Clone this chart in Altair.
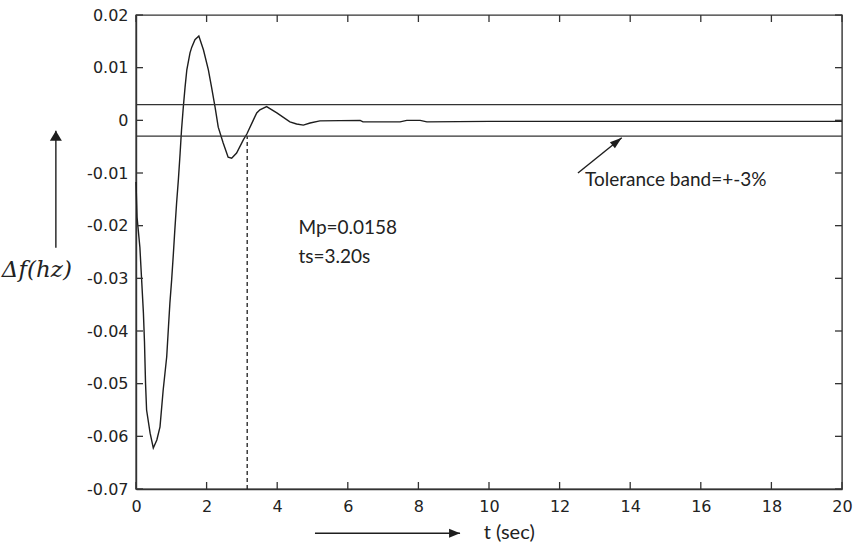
import altair as alt
import pandas as pd

# ---- data ----
t_vals = [0.0, 0.03, 0.11, 0.16, 0.21, 0.24, 0.27, 0.30, 0.40, 0.49, 0.59, 0.68, 0.77,
          0.87, 0.92, 0.96, 1.01, 1.06, 1.10, 1.15, 1.20, 1.25, 1.29, 1.34, 1.39, 1.44,
          1.53, 1.58, 1.67, 1.78, 1.91, 2.05, 2.14, 2.24, 2.33, 2.47, 2.61, 2.71, 2.85,
          3.04, 3.14, 3.32, 3.42, 3.51, 3.70, 3.99, 4.36, 4.55, 4.74, 4.93, 5.21, 6.35,
          6.43, 7.48, 7.67, 8.05, 8.24, 10.0, 20.0]
df_vals = [-0.0117, -0.0184, -0.0241, -0.0303, -0.0366, -0.0420, -0.0499, -0.0550, -0.0594,
           -0.0622, -0.0607, -0.0582, -0.0512, -0.0449, -0.0392, -0.0347, -0.0303, -0.0252,
           -0.0208, -0.0157, -0.0113, -0.0062, -0.0018, 0.0025, 0.0063, 0.0096, 0.0128,
           0.0139, 0.0153, 0.0160, 0.0134, 0.0096, 0.0063, 0.0025, -0.0013, -0.0043, -0.0070,
           -0.0072, -0.0062, -0.0037, -0.0026, 0.0000, 0.0014, 0.0020, 0.0026, 0.0014,
           -0.0003, -0.0007, -0.0009, -0.0005, -0.0001, 0.0000, -0.0003, -0.0003, 0.0000,
           0.0000, -0.0003, -0.0002, -0.0002]

x_ticks = [0, 2, 4, 6, 8, 10, 12, 14, 16, 18, 20]
y_ticks = [0.02, 0.01, 0, -0.01, -0.02, -0.03, -0.04, -0.05, -0.06, -0.07]

band_vals = [0.003, -0.003]
ts_val = 3.15
ts_from, ts_to = -0.07, -0.003

ann_texts = ["Mp=0.0158", "ts=3.20s"]
ann_t = [4.6, 4.6]
ann_v = [-0.0204, -0.0259]

tol_text = ["Tolerance band=+-3%"]
tol_t = [12.72]
tol_v = [-0.0113]

# arrows (data coordinates): start -> tip
tol_arrow = {"t1": [12.52], "v1": [-0.0100], "t2": [13.76], "v2": [-0.0033]}
up_arrow = {"t1": [-2.27], "v1": [-0.0242], "t2": [-2.27], "v2": [-0.0020]}
right_arrow = {"t1": [5.07], "v1": [-0.0784], "t2": [9.18], "v2": [-0.0784]}

ylab_text = ["Δf(hz)"]
ylab_t = [-3.8]
ylab_v = [-0.0285]
xlab_text = ["t (sec)"]
xlab_t = [9.85]
xlab_v = [-0.0784]

# ---- chart ----
W, H = 706, 474
INK = "#1e1e1e"
xs = alt.Scale(domain=[0, 20], nice=False, zero=False)
ys = alt.Scale(domain=[-0.07, 0.02], nice=False, zero=False)

x_axis = alt.Axis(
    values=x_ticks, title=None, ticks=False, tickSize=0, labelPadding=9, grid=False,
    labelFont="DejaVu Sans", labelFontSize=16, labelColor="#222", labelFlush=False,
    labelOverlap=False, domainColor="#333", domainWidth=1.4)
y_axis = alt.Axis(
    values=y_ticks, title=None, ticks=False, tickSize=0, labelPadding=8, grid=False,
    format="~g", labelExpr="replace(datum.label, '\u2212', '-')",
    labelFont="DejaVu Sans", labelFontSize=16, labelColor="#222", labelFlush=False,
    labelOverlap=False, domainColor="#333", domainWidth=1.4)


def X(field):
    return alt.X(field, scale=xs, axis=x_axis)


def Y(field):
    return alt.Y(field, scale=ys, axis=y_axis)


curve = pd.DataFrame({"t": t_vals, "v": df_vals})

line = alt.Chart(curve).mark_line(color=INK, strokeWidth=1.4).encode(x=X("t:Q"), y=Y("v:Q"))

ytk = pd.DataFrame({"v": y_ticks})
xtk = pd.DataFrame({"t": x_ticks})
TL = 7
tick_style = dict(color="#333", strokeWidth=1.3)
left_ticks = alt.Chart(ytk).mark_rule(**tick_style).encode(
    y=Y("v:Q"), x=alt.value(0), x2=alt.value(TL))
right_ticks = alt.Chart(ytk).mark_rule(**tick_style).encode(
    y=Y("v:Q"), x=alt.value(W - TL), x2=alt.value(W))
bottom_ticks = alt.Chart(xtk).mark_rule(**tick_style).encode(
    x=X("t:Q"), y=alt.value(H - TL), y2=alt.value(H))
top_ticks = alt.Chart(xtk).mark_rule(**tick_style).encode(
    x=X("t:Q"), y=alt.value(0), y2=alt.value(TL))

band = alt.Chart(pd.DataFrame({"v": band_vals})).mark_rule(color="#333", strokeWidth=1.3).encode(
    y=Y("v:Q"), x=alt.value(0), x2=alt.value(W))

dashed = alt.Chart(pd.DataFrame({"t": [ts_val], "v1": [ts_from], "v2": [ts_to]})).mark_rule(
    color=INK, strokeWidth=1.3, strokeDash=[4, 3]).encode(
    x=X("t:Q"), y=Y("v1:Q"), y2="v2:Q")

ann = alt.Chart(pd.DataFrame({"t": ann_t, "v": ann_v, "s": ann_texts})).mark_text(
    align="left", baseline="middle", font="Lato", fontSize=19, color="#222").encode(
    x=X("t:Q"), y=Y("v:Q"), text="s:N")

tol = alt.Chart(pd.DataFrame({"t": tol_t, "v": tol_v, "s": tol_text})).mark_text(
    align="left", baseline="middle", font="Lato", fontSize=19, color="#222").encode(
    x=X("t:Q"), y=Y("v:Q"), text="s:N")

ylab = alt.Chart(pd.DataFrame({"t": ylab_t, "v": ylab_v, "s": ylab_text})).mark_text(
    align="left", baseline="middle", font="DejaVu Serif", fontStyle="italic", fontSize=23,
    color="#222").encode(x=X("t:Q"), y=Y("v:Q"), text="s:N")

xlab = alt.Chart(pd.DataFrame({"t": xlab_t, "v": xlab_v, "s": xlab_text})).mark_text(
    align="left", baseline="middle", font="Lato", fontSize=20, color="#222").encode(
    x=X("t:Q"), y=Y("v:Q"), text="s:N")


def arrow(d, shape, angle):
    frame = pd.DataFrame(d)
    shaft = alt.Chart(frame).mark_rule(color=INK, strokeWidth=1.4).encode(
        x=X("t1:Q"), x2="t2:Q", y=Y("v1:Q"), y2="v2:Q")
    head = alt.Chart(frame).mark_point(
        shape=shape, filled=True, color=INK, opacity=1, size=100, angle=angle).encode(
        x=X("t2:Q"), y=Y("v2:Q"))
    return [shaft, head]


layers = [line, band, dashed, left_ticks, right_ticks, bottom_ticks, top_ticks, ann, tol, ylab, xlab]
layers += arrow(up_arrow, "M0,0L-1.2,2L1.2,2Z", 0)
layers += arrow(right_arrow, "M0,0L-0.9,2.2L0.9,2.2Z", 90)
layers += arrow(tol_arrow, "M0,0L-0.8,2.4L0.8,2.4Z", 51)

chart = alt.layer(*layers).properties(
    width=W, height=H,
    autosize=alt.AutoSizeParams(type="none"),
    padding={"left": 136, "top": 15, "right": 16, "bottom": 55},
    background="white",
).configure_view(stroke="#333", strokeWidth=1.4)

chart.save("out.html", embed_options={"renderer": "svg", "actions": False})
